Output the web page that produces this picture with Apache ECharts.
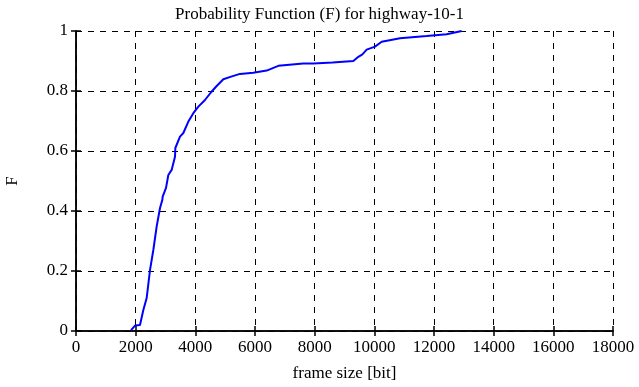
<!DOCTYPE html>
<html>
<head>
<meta charset="utf-8">
<script src="https://cdn.jsdelivr.net/npm/echarts@6/dist/echarts.min.js"></script>
<style>html,body{margin:0;padding:0;background:#fff;}#c{width:639px;height:387px;}</style>
</head>
<body>
<div id="c"></div>
<script>
const frameSize = [1845, 1980, 2145, 2257, 2369, 2480, 2592, 2703, 2816, 2894, 2905, 3017, 3095, 3206, 3318, 3330, 3486, 3598, 3766, 3933, 4101, 4324, 4520, 4700, 4939, 5200, 5497, 5944, 6391, 6782, 7620, 7955, 8600, 9296, 9464, 9600, 9743, 10022, 10246, 10860, 11755, 12425, 12928];
const probF = [0.003, 0.018, 0.02, 0.07, 0.11, 0.203, 0.27, 0.348, 0.41, 0.437, 0.448, 0.477, 0.52, 0.537, 0.581, 0.61, 0.648, 0.66, 0.698, 0.726, 0.748, 0.77, 0.795, 0.815, 0.839, 0.848, 0.857, 0.861, 0.868, 0.884, 0.892, 0.892, 0.895, 0.9, 0.914, 0.922, 0.938, 0.948, 0.964, 0.976, 0.983, 0.989, 1.0];
const xTicks = [0, 2000, 4000, 6000, 8000, 10000, 12000, 14000, 16000, 18000];
const yTicks = [0, 0.2, 0.4, 0.6, 0.8, 1];

const font = 'Liberation Serif';
const chart = echarts.init(document.getElementById('c'), null, {renderer: 'canvas'});
const axisLine = {show: true, lineStyle: {color: '#000', width: 1.5}};
const tick = {show: true, inside: true, length: 5, lineStyle: {color: '#000', width: 1.5}};
chart.setOption({
  animation: false,
  title: {
    text: 'Probability Function (F) for highway-10-1',
    left: 'center', top: 1,
    textStyle: {fontFamily: font, fontSize: 17, fontWeight: 'normal', color: '#000'}
  },
  grid: {left: 76, right: 26, top: 31, bottom: 56, outerBoundsMode: 'none', containLabel: false},
  xAxis: [{
    type: 'value', min: xTicks[0], max: xTicks[xTicks.length - 1], interval: 2000,
    name: 'frame size [bit]', nameLocation: 'middle', nameGap: 34,
    nameTextStyle: {fontFamily: font, fontSize: 17, color: '#000'},
    axisLine: axisLine, axisTick: tick,
    axisLabel: {fontFamily: font, fontSize: 17, color: '#000', margin: 8, formatter: v => String(v)},
    splitLine: {show: true, lineStyle: {color: '#000', type: [6, 6], width: 1}}
  }, {
    type: 'value', position: 'top', min: xTicks[0], max: xTicks[xTicks.length - 1], interval: 2000,
    axisLine: axisLine, axisTick: tick, axisLabel: {show: false}, splitLine: {show: false}
  }],
  yAxis: [{
    type: 'value', min: yTicks[0], max: yTicks[yTicks.length - 1], interval: 0.2,
    name: 'F', nameLocation: 'middle', nameGap: 55, nameRotate: 90,
    nameTextStyle: {fontFamily: font, fontSize: 17, color: '#000'},
    axisLine: axisLine, axisTick: tick,
    axisLabel: {fontFamily: font, fontSize: 17, color: '#000', margin: 8,
      formatter: v => String(Math.round(v * 10) / 10)},
    splitLine: {show: true, lineStyle: {color: '#000', type: [6, 6], width: 1}}
  }, {
    type: 'value', position: 'right', min: yTicks[0], max: yTicks[yTicks.length - 1], interval: 0.2,
    axisLine: axisLine, axisTick: tick, axisLabel: {show: false}, splitLine: {show: false}
  }],
  series: [{
    type: 'line',
    data: frameSize.map((x, i) => [x, probF[i]]),
    showSymbol: false,
    lineStyle: {color: '#0000ff', width: 2},
    itemStyle: {color: '#0000ff'}
  }]
});
</script>
</body>
</html>
